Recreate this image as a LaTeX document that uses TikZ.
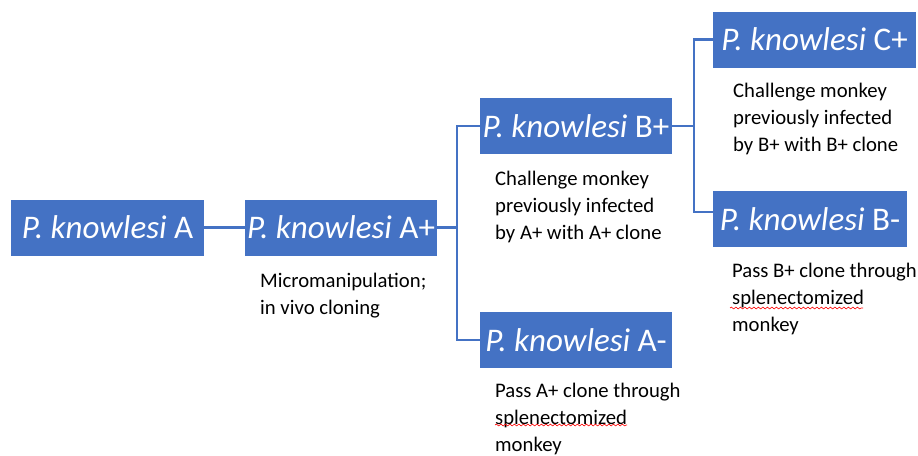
\documentclass[tikz,border=0pt]{standalone}
\usepackage{fontspec}
\setmainfont{Carlito}
\usetikzlibrary{decorations.pathmorphing}
\definecolor{officeblue}{HTML}{4472C4}

\begin{document}
\begin{tikzpicture}[x=1pt,y=-1pt,
    strain/.style={fill=officeblue,text=white,inner xsep=0pt,minimum height=56,
        font=\fontsize{33}{37}\selectfont},
    note/.style={anchor=north west,align=left,inner sep=0pt,
        font=\fontsize{20.7}{27}\selectfont},
    link/.style={officeblue,line width=2.2pt},
    typo/.style={red,line width=0.6pt,decorate,
        decoration={snake,amplitude=0.9pt,segment length=4.5pt}}]

    \useasboundingbox (0,0) rectangle (918,455);

    % the strains
    \foreach \name/\x/\y/\w/\lab in {
    A/107.5/227.5/193/A,
    Ap/341/227.5/192/A+,
    Bp/576/126/192/B+,
    Am/576/340/192/A-,
    Cp/814.5/39.5/203/C+,
    Bm/810/219/194/B-} {
    \node [strain,minimum width=\w] (\name) at (\x,\y) {\textit{P. knowlesi} \lab};
    }

    % what was done at each step
    \node [note] (apnote) at (260,273) {Micromanipulation;\\in vivo cloning};
    \node [note] (bpnote) at (495,171) {Challenge monkey\\previously infected\\by A+ with A+ clone};
    \node [note] (amnote) at (495,383) {Pass A+ clone through\\splenectomized\\monkey};
    \node [note] (cpnote) at (733,83) {Challenge monkey\\previously infected\\by B+ with B+ clone};
    \node [note] (bmnote) at (732,263) {Pass B+ clone through\\splenectomized\\monkey};

    % connectors
    \draw [link] (A) -- (Ap);
    \draw [link] (Ap.east) -- ++(20,0) |- (Bp.west);
    \draw [link] (Ap.east) -- ++(20,0) |- (Am.west);
    \draw [link] (Bp.east) -- ++(22,0) |- (Cp.west);
    \draw [link] (Bp.east) -- ++(22,0) |- ([yshift=7pt]Bm.west);

    % spell check marks
    \draw [typo] ([shift={(0,42)}]amnote.north west) -- ++(132,0);
    \draw [typo] ([shift={(-2,45)}]bmnote.north west) -- ++(133,0);

\end{tikzpicture}
\end{document}
